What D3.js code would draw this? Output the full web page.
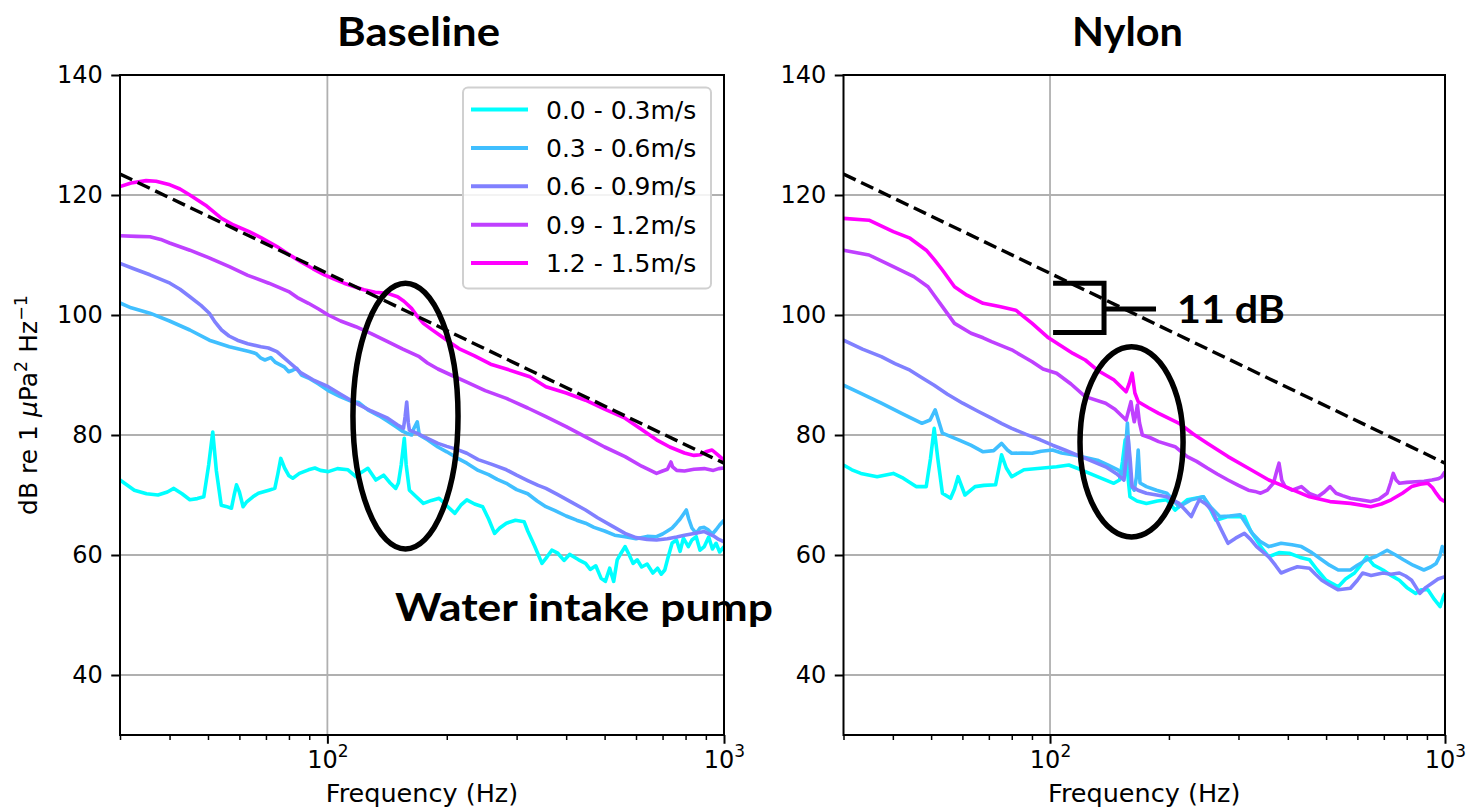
<!DOCTYPE html>
<html>
<head>
<meta charset="utf-8">
<script src="https://cdn.jsdelivr.net/npm/d3@7"></script>
<style>
  html, body { margin: 0; padding: 0; background: #ffffff; }
  svg { display: block; }
</style>
</head>
<body>
<svg id="chart" width="1470" height="809"></svg>
<script>
// ---------------- DATA ----------------
const freqDomain = [30, 1000];
const dbDomain = [30, 140];
const yTickValues = [40, 60, 80, 100, 120, 140];
const xMajorTicks = [100, 1000];
const xMajorExponents = ["2", "3"];
const xMinorTicks = [30, 40, 50, 60, 70, 80, 90, 200, 300, 400, 500, 600, 700, 800, 900];
const legendLabels = ["0.0 - 0.3m/s", "0.3 - 0.6m/s", "0.6 - 0.9m/s", "0.9 - 1.2m/s", "1.2 - 1.5m/s"];
const seriesColors = ["#00ffff", "#40bfff", "#8080ff", "#bf40ff", "#ff00ff"];
const panelTitles = ["Baseline", "Nylon"];
const referenceLine = [[30, 123.5], [1000, 75.3]];

// Baseline panel, [frequency Hz, dB]
const baseline00 = [[30,72.5],[31.5,71.5],[32.6,70.8],[35,70.2],[37.4,70],[39.5,70.5],[41,71.1],[43,70.2],[45,69.2],[47,69.4],[48.8,69.7],[50.2,75],[51.4,80.5],[52.5,74],[54,68.3],[55.5,68.1],[57.3,67.8],[58.2,70],[59,71.7],[60,70.5],[61.3,68.05],[62.5,68.8],[64.9,69.7],[67,70.3],[71.2,70.8],[73.7,71.1],[75,73.5],[76.3,76.1],[78,74.5],[80,73.2],[81.8,72.8],[85,73.6],[89.6,74.2],[93,74.5],[96,74.1],[100.5,73.9],[106,74.4],[112.7,74.2],[118,73.05],[122,73.8],[126.5,74.45],[132.5,72.5],[138.6,73.3],[144,72],[148.7,71.1],[151,72],[153.5,75],[156.3,79.45],[158,75],[161,70.8],[167,69.8],[174.6,68.6],[183,69.1],[191.3,69.45],[200,68.2],[209.7,66.95],[217,68.3],[224.7,69.2],[235,68.5],[246.3,68.05],[255,66],[263.9,63.6],[272,64.5],[282.7,65.3],[298,65.8],[313.3,65.55],[320,64],[333,61.5],[347.5,58.6],[358,59.7],[368,60.8],[381,60.3],[395,59.1],[408,60.1],[417.6,59.7],[430,59.2],[447.7,58.6],[460,57.6],[475,58.2],[490,56.1],[502.2,55.6],[515,57.8],[527,55.6],[538,59.2],[550,60.3],[563,61.4],[575,60.2],[590,58.6],[604,59.2],[620,58],[640,58.5],[661.7,57],[680,57.8],[695,56.8],[709,57.5],[722,59.5],[740,62],[759,62.5],[775,60.6],[790,62.8],[813,61.4],[830,62.5],[851,63.05],[870,60.8],[892,61.4],[915,63],[935,61],[955,61.95],[975,60.5],[1000,61.4]];
const baseline03 = [[30,102],[32,101.2],[35.7,100.3],[40,99],[45,97.5],[50.4,95.8],[56.6,94.7],[63.5,93.9],[66,93.6],[68,92.8],[69.6,92.5],[72,92.9],[74,92.1],[78,91.3],[79.9,90.55],[81.8,90.8],[83.7,91.1],[86,90],[89.6,89.5],[95,88.5],[100.5,87.4],[107.7,86.4],[115,85.6],[120,85.4],[126.5,84.2],[135,83.2],[142,82.3],[148.7,81.4],[155,80.6],[160,80.2],[163,80],[165,81],[168.5,82.2],[170.5,80],[178.8,79.2],[190,78],[200,77.2],[212,76.2],[224.7,75.3],[240,74.1],[255,73.4],[268,72.6],[282.7,71.95],[300,70.9],[320,70.2],[338,69],[355.6,68.05],[375,67.4],[400,66.5],[425,65.8],[447.7,65.3],[470,64.6],[500,64],[530,63.3],[563,63.05],[600,62.7],[640,63.1],[676,63.05],[700,63.5],[720,64],[740,64.5],[759,65.3],[775,66],[790,66.8],[803.5,67.5],[815,66],[830,64.5],[851,63.6],[870,64.5],[892,64.6],[912,64.2],[935,63.5],[955,64.2],[975,65],[1000,65.8]];
const baseline06 = [[30,108.6],[32.5,107.7],[35.7,106.7],[40.1,105.3],[42.5,104.3],[45,103.05],[48,101.6],[50.4,100.3],[52,98.9],[54.1,97.5],[56.5,96.5],[59.3,95.8],[63,95.2],[68,94.7],[71,94.5],[74.6,93.9],[77,93.1],[79.9,92.2],[82.5,91.4],[85.6,90.4],[92,89.2],[100.5,88.05],[108,86.8],[118,85.3],[129,84],[141.9,82.8],[150,81.7],[155.5,81.1],[157,83],[158.5,85.5],[160,82],[161,80.8],[168,80.3],[178.8,79.45],[190,78.6],[200,78.1],[212,77.6],[224.7,76.95],[240,75.9],[260,75.1],[282.7,74.2],[300,73.3],[320,72.4],[340,71.6],[355.6,71.1],[380,70.1],[410,68.9],[447.7,67.5],[480,66.2],[520,64.9],[563,63.6],[600,62.9],[640,62.6],[676,62.5],[720,62.7],[760,63],[795,63.3],[840,63.6],[892,63.9],[940,63.2],[970,62.6],[1000,62.2]];
const baseline09 = [[30,113.2],[33,113.1],[35.7,113.05],[38,112.6],[40,112],[45,110.8],[50,109.6],[56.6,108.05],[63,106.6],[71.2,105.3],[79.9,103.9],[84,102.9],[89.6,101.95],[95,101],[100.5,100],[108,99],[118,98.05],[129,96.9],[141.9,95.55],[155,94.3],[170.5,93.05],[178.8,92],[190,91],[204.9,90],[224.7,88.8],[250,87.4],[282.7,86.1],[320,84.5],[355.6,83.05],[400,81.4],[447.7,79.7],[500,78],[563,76.4],[620,74.8],[676,73.6],[700,74],[720,74.3],[735,75.5],[742,74.7],[760,74.1],[795,74],[840,74.3],[892,74.4],[940,74.1],[970,74.4],[1000,74.5]];
const baseline12 = [[30,121.4],[32,122],[34.9,122.4],[37,122.3],[40.1,121.7],[42.5,121],[45,120],[49.3,118.3],[54.1,116.1],[58,115],[63.5,113.9],[68,112.9],[74.6,111.4],[80,110.1],[85.6,108.9],[92,107.7],[98.3,106.7],[104,106],[110.2,105.3],[116,104.8],[123.6,104.2],[132,103.8],[141.9,103.6],[150.3,103.05],[156,102.3],[163,101.1],[168,99.9],[174.6,98.6],[183,97.6],[191.3,96.7],[202,95.6],[214.6,94.4],[235,93.2],[258,91.8],[282.7,91],[324,89.7],[355.6,88.05],[400,87],[447.7,85.8],[500,84.3],[563,82.8],[620,80.9],[676,79.2],[730,78],[795,77],[840,76.6],[871,76.7],[900,77.2],[933,77.5],[960,76.8],[1000,75.8]];

// Nylon panel, [frequency Hz, dB]
const nylon00 = [[30,75],[31.5,74.2],[33.2,73.6],[36.5,73.05],[40.1,73.6],[42.5,72.8],[45.8,71.4],[48.6,71.4],[49.8,76],[50.9,81.1],[52,76],[53.4,70.3],[56,69.45],[57.3,71],[58.5,73.05],[59.7,71.5],[60.9,70],[64.6,71.4],[68,71.6],[72.8,71.7],[74,74],[75.4,76.7],[77.5,74.5],[80,73.05],[85.9,74.2],[94.5,74.45],[103.9,74.7],[111.6,75],[119.9,74.2],[131.8,73.05],[145,71.95],[150,72.5],[152.5,75.5],[155,79.2],[157,74],[159.4,69.7],[166,69],[175.4,68.6],[187,69],[197.6,69.2],[207.3,67.5],[222.5,69.2],[244.6,69.7],[255,67.5],[262.9,65.8],[282.2,66.4],[310.5,66.4],[322,64],[333.4,62.5],[345,61],[358,59.7],[380,60.4],[403.3,60.3],[430,59.6],[454,59.2],[475,57.5],[499.5,55.8],[520,55.2],[536.6,54.7],[560,56],[590,57],[610,58.2],[633.6,59.7],[660,58.3],[696.6,57.5],[730,56.6],[766.4,55.8],[800,54.6],[843,53.6],[870,54.2],[905,54.2],[940,52.6],[972,51.4],[990,53],[1000,53.6]];
const nylon03 = [[30,88.3],[33.2,86.95],[37.4,85.3],[42.1,83.6],[47.4,81.95],[49.7,82.5],[51.2,84.2],[53.4,80.3],[58.7,79.2],[63,78.3],[67.7,77.2],[72,77.4],[75.4,78.6],[78,77.5],[80,76.95],[85,77],[90.1,76.95],[95,77.3],[101.5,77.5],[107,77],[114.3,76.7],[122,76.3],[131.8,75.8],[140,75],[148.5,74.2],[153,73.5],[155.5,78],[157,82],[158.5,77],[160.5,71.5],[163.4,70.8],[165.5,73],[167.2,77.5],[169,72],[175.4,71.4],[186,70.8],[197.6,70.3],[212.2,68.05],[227.9,69.2],[244.6,69.7],[255,68],[269,66.4],[285,66.5],[303,66.7],[315,65],[325.3,63.6],[340,62.3],[358,61.4],[384.6,61.95],[410,61.7],[433,61.4],[460,60.4],[487.5,59.2],[510,58.3],[536.6,57.5],[576,57.5],[600,58.3],[633.6,59.2],[670,59.8],[713.6,60.8],[750,60],[785,59.2],[830,58.3],[884,57.5],[920,58],[949.6,58.6],[970,59.8],[984,61.4],[1000,60.3]];
const nylon06 = [[30,95.8],[33.5,94.3],[37.4,93.05],[40.5,91.9],[44.2,90.8],[47.5,89.5],[50.9,88.3],[55,86.8],[60.1,85.3],[65.5,84],[71.1,82.8],[75.5,81.9],[80,81.1],[87,80.1],[94.5,79.2],[101.5,78.3],[109,77.5],[122.8,76.1],[138.3,74.7],[147,73.6],[153.9,72.5],[156,76],[157.6,79.7],[159.5,76],[161.4,71.4],[167,70.8],[175.4,70.3],[197.6,69.7],[212.2,68.6],[220,67.5],[227.9,66.4],[233,67.8],[238.8,69.2],[248,68.5],[256.7,67.5],[270,64.5],[282.2,61.95],[295,62.8],[310.5,63.6],[322,62.6],[333.4,61.4],[358,59.7],[372,58.3],[384.6,57],[405,57.6],[423,58.05],[454,57.8],[470,56.8],[487.5,55.8],[510,55],[536.6,54.2],[576,54.45],[600,55.8],[618.6,57],[650,56.6],[696.6,57],[730,56.8],[766.4,57],[795,56.5],[823,55.8],[845,54.6],[863,53.6],[895,54.6],[926.8,55.3],[960,56],[1000,56.4]];
const nylon09 = [[30,110.8],[34.8,110],[40.1,108.05],[45.2,106.4],[49.1,104.7],[51,103.2],[53.4,101.4],[57.3,98.6],[63.1,96.95],[67.7,96.2],[71.1,95.55],[80,94.2],[85.9,93],[90.1,92.2],[96,91],[103.9,90.3],[113,88.5],[122.8,86.4],[138.3,85.3],[146,84.3],[155.8,82.5],[158,84],[160.3,85.55],[162,83.5],[163.4,82.2],[165,83.5],[166.4,85],[168.5,82],[171.3,80],[180,79.5],[188.4,78.9],[207.3,78.05],[222.5,76.4],[235,75.6],[250.6,74.45],[265,73.5],[282.2,72.5],[300,71.6],[317.8,70.8],[330,70.6],[341.4,70.3],[355,70.8],[368,72],[375,74],[380,75.3],[386,72.5],[393.7,71.4],[410,70.8],[433,71.4],[455,70.2],[476.4,69.7],[495,70.5],[511.6,71.4],[530,70.3],[550,69.9],[576,69.45],[610,69.2],[648.6,68.9],[680,69.3],[713.6,70.3],[728,72],[739.6,73.6],[752,72.5],[766.4,71.95],[800,72.1],[843,72.2],[885,72.3],[926.8,72.5],[960,72.7],[980,73],[1000,73.9]];
const nylon12 = [[30,116.1],[34.8,115.8],[40.1,113.9],[44.2,112.8],[48.6,110.8],[51,109.2],[53.4,107.5],[57.3,104.7],[61.6,103.3],[67.7,101.95],[74.5,101.4],[81.9,100.8],[90.1,98.6],[99.1,96.2],[114.3,93.6],[122.8,92.5],[131.8,90.8],[145,89.2],[155.8,87.2],[158.5,88.5],[161.4,90.3],[164,87],[167.2,85.55],[178,84.5],[188.4,83.6],[212.2,81.95],[230,80.2],[250.6,78.6],[282.2,76.4],[317.8,74.45],[358,72.5],[403.3,71.1],[454,69.7],[511.6,68.9],[576,68.6],[648.6,68.05],[690,68.5],[730.8,69.2],[780,70.3],[823,71.4],[865,71.8],[905,71.95],[930,71.2],[949.6,70.3],[975,69.3],[1000,68.9]];

const baselineSeries = [baseline00, baseline03, baseline06, baseline09, baseline12];
const nylonSeries = [nylon00, nylon03, nylon06, nylon09, nylon12];

// Annotations in data coordinates (frequency, dB)
const baselineEllipse = {f: [116, 213.5], db: [105.3, 61]};
const nylonEllipse = {f: [119.1, 217.2], db: [94.7, 63.0]};
const bracketF = [101.8, 137, 185.5];
const bracketDb = [105.3, 101, 97.1];

// ---------------- LAYOUT ----------------
const svg = d3.select("#chart");
const plotTop = 75, plotBottom = 735;
const layout = [
  {x0: 120, x1: 724, titleX: 418.5, titleW: 163, ylabel: true, legend: true, series: baselineSeries},
  {x0: 843.5, x1: 1445, titleX: 1127.5, titleW: 111, ylabel: false, legend: false, series: nylonSeries}
];
const tickFont = "'DejaVu Sans', sans-serif";
const annoFont = "Lato, 'Open Sans', sans-serif";

const scales = [];

layout.forEach((p, i) => {
  const x = d3.scaleLog().domain(freqDomain).range([p.x0, p.x1]);
  const y = d3.scaleLinear().domain(dbDomain).range([plotBottom, plotTop]);
  scales.push({x, y});
  const g = svg.append("g");

  const clipId = "clip" + i;
  svg.append("defs").append("clipPath").attr("id", clipId)
    .append("rect").attr("x", p.x0).attr("y", plotTop)
    .attr("width", p.x1 - p.x0).attr("height", plotBottom - plotTop);

  // grid
  const grid = g.append("g");
  grid.selectAll(".gy").data(yTickValues).join("line")
    .attr("x1", p.x0).attr("x2", p.x1)
    .attr("y1", d => y(d)).attr("y2", d => y(d))
    .attr("stroke", "#b0b0b0").attr("stroke-width", 1.8);
  grid.selectAll(".gx").data(xMajorTicks).join("line")
    .attr("x1", d => x(d)).attr("x2", d => x(d))
    .attr("y1", plotTop).attr("y2", plotBottom)
    .attr("stroke", "#b0b0b0").attr("stroke-width", 1.8);

  // series
  const line = d3.line().x(d => x(d[0])).y(d => y(d[1]));
  const lg = g.append("g").attr("clip-path", `url(#${clipId})`);
  p.series.forEach((s, k) => {
    lg.append("path").datum(s).attr("d", line)
      .attr("fill", "none").attr("stroke", seriesColors[k])
      .attr("stroke-width", 3.6).attr("stroke-linejoin", "round").attr("stroke-linecap", "butt");
  });
  lg.append("path").datum(referenceLine).attr("d", line)
    .attr("fill", "none").attr("stroke", "#000").attr("stroke-width", 3.4)
    .attr("stroke-dasharray", "13.5,6");

  // y axis
  const yAxis = d3.axisLeft(y).tickValues(yTickValues).tickSize(8.75).tickPadding(8.5);
  const ya = g.append("g").attr("transform", `translate(${p.x0},0)`).call(yAxis);
  ya.select(".domain").remove();
  ya.selectAll(".tick line").attr("stroke", "#000").attr("stroke-width", 2);
  ya.selectAll(".tick text").attr("font-family", tickFont).attr("font-size", 24).attr("fill", "#000");

  // x minor ticks
  const xMinor = d3.axisBottom(x).tickValues(xMinorTicks).tickSize(5).tickFormat("");
  const xm = g.append("g").attr("transform", `translate(0,${plotBottom})`).call(xMinor);
  xm.select(".domain").remove();
  xm.selectAll(".tick line").attr("stroke", "#000").attr("stroke-width", 1.5);

  // x major ticks
  const xMajor = d3.axisBottom(x).tickValues(xMajorTicks).tickSize(8.75).tickPadding(8).tickFormat("");
  const xa = g.append("g").attr("transform", `translate(0,${plotBottom})`).call(xMajor);
  xa.select(".domain").remove();
  xa.selectAll(".tick line").attr("stroke", "#000").attr("stroke-width", 2);
  xa.selectAll(".tick text").each(function(d, j) {
    const t = d3.select(this);
    t.text(null).attr("y", 33).attr("dy", null)
      .attr("font-family", tickFont).attr("font-size", 24).attr("fill", "#000");
    t.append("tspan").text("10");
    t.append("tspan").attr("font-size", 17).attr("dy", -11).text(xMajorExponents[j]);
  });

  // spines
  g.append("rect").attr("x", p.x0).attr("y", plotTop)
    .attr("width", p.x1 - p.x0).attr("height", plotBottom - plotTop)
    .attr("fill", "none").attr("stroke", "#000").attr("stroke-width", 2);

  // x label
  g.append("text").attr("x", (p.x0 + p.x1) / 2).attr("y", 802)
    .attr("text-anchor", "middle").attr("font-family", tickFont).attr("font-size", 25.5)
    .attr("fill", "#000").text("Frequency (Hz)");

  // y label
  if (p.ylabel) {
    const yl = g.append("text").attr("transform", `translate(37,${(plotTop + plotBottom) / 2}) rotate(-90)`)
      .attr("text-anchor", "middle").attr("font-family", tickFont).attr("font-size", 25).attr("fill", "#000");
    yl.append("tspan").text("dB re 1 ");
    yl.append("tspan").attr("font-style", "italic").text("\u03bc");
    yl.append("tspan").text("Pa");
    yl.append("tspan").attr("font-size", 17.5).attr("dy", -10).text("2");
    yl.append("tspan").attr("dy", 10).text(" Hz");
    yl.append("tspan").attr("font-size", 17.5).attr("dy", -10).text("\u22121");
  }

  // legend
  if (p.legend) {
    const lw = 248, lh = 201;
    const lx = p.x1 - 13 - lw, ly = plotTop + 12.5;
    const leg = g.append("g");
    leg.append("rect").attr("x", lx).attr("y", ly).attr("width", lw).attr("height", lh)
      .attr("rx", 5).attr("fill", "#fff").attr("fill-opacity", 0.85)
      .attr("stroke", "#d0d0d0").attr("stroke-width", 2);
    legendLabels.forEach((lab, k) => {
      const cy = ly + 22 + k * 38.4;
      leg.append("line").attr("x1", lx + 8).attr("x2", lx + 65).attr("y1", cy).attr("y2", cy)
        .attr("stroke", seriesColors[k]).attr("stroke-width", 4);
      leg.append("text").attr("x", lx + 83).attr("y", cy).attr("dy", "0.36em")
        .attr("font-family", tickFont).attr("font-size", 25).attr("fill", "#000").text(lab);
    });
  }

  // title
  svg.append("text").attr("x", p.titleX).attr("y", 46).attr("text-anchor", "middle")
    .attr("font-family", annoFont).attr("font-weight", 700).attr("font-size", 40)
    .attr("textLength", p.titleW).attr("lengthAdjust", "spacingAndGlyphs")
    .attr("fill", "#000").text(panelTitles[i]);
});

// ---------------- ANNOTATIONS ----------------
function drawEllipse(sc, e) {
  const xa = sc.x(e.f[0]), xb = sc.x(e.f[1]);
  const ya = sc.y(e.db[0]), yb = sc.y(e.db[1]);
  svg.append("ellipse").attr("cx", (xa + xb) / 2).attr("cy", (ya + yb) / 2)
    .attr("rx", Math.abs(xb - xa) / 2).attr("ry", Math.abs(yb - ya) / 2)
    .attr("fill", "none").attr("stroke", "#000").attr("stroke-width", 5.5);
}
drawEllipse(scales[0], baselineEllipse);
drawEllipse(scales[1], nylonEllipse);

const sN = scales[1];
svg.append("path")
  .attr("d", `M${sN.x(bracketF[0])},${sN.y(bracketDb[0])} H${sN.x(bracketF[1])} V${sN.y(bracketDb[2])} H${sN.x(bracketF[0])}`)
  .attr("fill", "none").attr("stroke", "#000").attr("stroke-width", 5);
svg.append("line")
  .attr("x1", sN.x(bracketF[1])).attr("x2", sN.x(bracketF[2]))
  .attr("y1", sN.y(bracketDb[1])).attr("y2", sN.y(bracketDb[1]))
  .attr("stroke", "#000").attr("stroke-width", 5);

svg.append("text").attr("x", 1177).attr("y", 323)
  .attr("font-family", annoFont).attr("font-weight", 700).attr("font-size", 38)
  .attr("textLength", 108).attr("lengthAdjust", "spacingAndGlyphs")
  .attr("fill", "#000").text("11 dB");
svg.append("text").attr("x", 395).attr("y", 621)
  .attr("font-family", annoFont).attr("font-weight", 700).attr("font-size", 38)
  .attr("textLength", 378).attr("lengthAdjust", "spacingAndGlyphs")
  .attr("fill", "#000").text("Water intake pump");
</script>
</body>
</html>
